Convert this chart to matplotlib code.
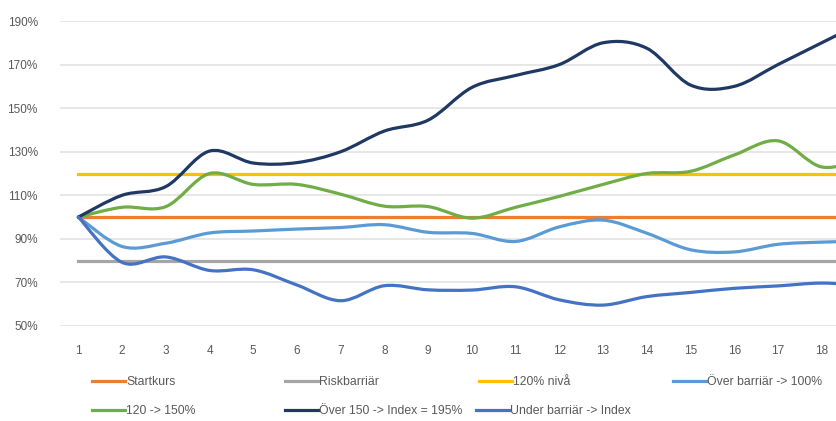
import numpy as np
import matplotlib
matplotlib.use('Agg')
from matplotlib import pyplot as plt
from matplotlib.path import Path
from matplotlib.patches import PathPatch
from matplotlib.lines import Line2D

plt.rcParams['font.family'] = ['Liberation Sans', 'DejaVu Sans']

# värden (procent), punkt 19 ligger precis utanför bilden
perioder = list(range(1, 20))
startkurs = 100
riskbarriar = 80
niva_120 = 120
over_barriar = [100, 86.5, 88, 92.7, 93.6, 94.5, 95.2, 96.5, 93, 92.5, 88.8, 95.5, 98.6, 92.6, 85, 84, 87.5, 88.5, 89]
mellan_120_150 = [100, 104.5, 104.8, 120, 115, 115, 110.5, 105, 104.8, 99.5, 104.5, 109.5, 115, 120, 121, 128.5, 135, 123, 127]
over_150 = [100, 110, 114, 130.3, 124.8, 125, 130, 139.5, 144.5, 159.5, 165, 170, 180, 177.5, 160.6, 160, 170, 180, 190]
under_barriar = [100, 79.2, 81.7, 75.5, 75.8, 68.8, 61.6, 68.5, 66.6, 66.5, 68, 62, 59.6, 63.5, 65.4, 67.3, 68.4, 69.7, 68.5]
ytick_varden = [50, 70, 90, 110, 130, 150, 170, 190]

farger = {
    'Startkurs': '#ED7D31',
    'Riskbarriär': '#A5A5A5',
    '120% nivå': '#FFC000',
    'Över barriär -> 100%': '#5B9BD5',
    '120 -> 150%': '#70AD47',
    'Över 150 -> Index = 195%': '#1F3864',
    'Under barriär -> Index': '#4472C4',
}
LW = 2.3


def slat_linje(ax, x, y, farg):
    # Excel-liknande utjämnad linje (Catmull-Rom som Bezier-kurvor)
    x = np.asarray(x, float)
    y = np.asarray(y, float)
    p = np.column_stack([x, y])
    verts = [p[0]]
    codes = [Path.MOVETO]
    n = len(p)
    for i in range(n - 1):
        p0 = p[i - 1] if i > 0 else p[i]
        p1 = p[i]
        p2 = p[i + 1]
        p3 = p[i + 2] if i + 2 < n else p[i + 1]
        c1 = p1 + (p2 - p0) / 6.0
        c2 = p2 - (p3 - p1) / 6.0
        verts += [c1, c2, p2]
        codes += [Path.CURVE4] * 3
    ax.add_patch(PathPatch(Path(verts, codes), facecolor='none', edgecolor=farg,
                           lw=LW, capstyle='round', joinstyle='round', zorder=3))


fig = plt.figure(figsize=(8.37, 4.21), dpi=100)
ax = fig.add_axes([60 / 837, 1 - 326 / 421, 1 - 60 / 837, (326 - 21) / 421])

ax.plot([1, 19], [startkurs] * 2, color=farger['Startkurs'], lw=LW, zorder=2)
ax.plot([1, 19], [riskbarriar] * 2, color=farger['Riskbarriär'], lw=LW, zorder=2)
ax.plot([1, 19], [niva_120] * 2, color=farger['120% nivå'], lw=LW, zorder=2)

slat_linje(ax, perioder, over_barriar, farger['Över barriär -> 100%'])
slat_linje(ax, perioder, mellan_120_150, farger['120 -> 150%'])
slat_linje(ax, perioder, over_150, farger['Över 150 -> Index = 195%'])
slat_linje(ax, perioder, under_barriar, farger['Under barriär -> Index'])

ax.set_xlim(0.58, 18.35)
ax.set_ylim(50, 190)
ax.set_yticks(ytick_varden)
ax.set_yticklabels([f'{v}%' for v in ytick_varden])
ax.set_xticks(perioder[:18])
ax.set_xticklabels([str(v) for v in perioder[:18]])
ax.grid(axis='y', color='#E3E3E3', lw=1.2, zorder=0)
for s in ax.spines.values():
    s.set_visible(False)
ax.tick_params(length=0, colors='#595959', labelsize=8.5)
ax.tick_params(axis='y', pad=16)
ax.tick_params(axis='x', pad=14)

# förklaring, placerad som i Excel
poster = [
    ('Startkurs', 92, 382), ('Riskbarriär', 285, 382), ('120% nivå', 479, 382),
    ('Över barriär -> 100%', 673, 382), ('120 -> 150%', 92, 411),
    ('Över 150 -> Index = 195%', 285, 411), ('Under barriär -> Index', 476, 411),
]
for namn, px, py in poster:
    fig.legend(handles=[Line2D([], [], color=farger[namn], lw=LW)], labels=[namn],
               loc='center left', bbox_to_anchor=(px / 837, 1 - py / 421),
               frameon=False, fontsize=8.8, handlelength=2.7, handletextpad=0.1,
               borderpad=0, borderaxespad=0, labelcolor='#595959')

fig.savefig('out.png', dpi=100)
